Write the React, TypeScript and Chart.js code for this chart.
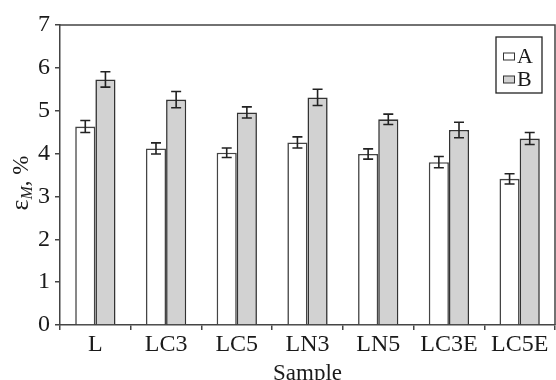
import React, { useEffect, useRef } from "react";
import { Chart, registerables } from "chart.js";

Chart.register(...registerables);

const categories = ["L", "LC3", "LC5", "LN3", "LN5", "LC3E", "LC5E"];
const valuesA = [4.63, 4.12, 4.02, 4.26, 3.99, 3.8, 3.41];
const errorsA = [0.14, 0.13, 0.11, 0.13, 0.12, 0.13, 0.12];
const valuesB = [5.73, 5.26, 4.96, 5.31, 4.8, 4.55, 4.35];
const errorsB = [0.18, 0.19, 0.13, 0.19, 0.12, 0.18, 0.14];
const yTicks = [0, 1, 2, 3, 4, 5, 6, 7];

const FONT = "'Liberation Serif', 'DejaVu Serif', serif";
const INK = "#1a1a1a";

const errorBarPlugin = {
  id: "errorBars",
  afterDatasetsDraw(chart: any) {
    const { ctx } = chart;
    const yScale = chart.scales.y;
    chart.data.datasets.forEach((ds: any, di: number) => {
      const meta = chart.getDatasetMeta(di);
      const errs: number[] = ds.errors || [];
      meta.data.forEach((bar: any, i: number) => {
        const v = ds.data[i];
        const e = errs[i];
        if (e == null) return;
        const yTop = yScale.getPixelForValue(v + e);
        const yBot = yScale.getPixelForValue(v - e);
        const x = bar.x;
        const cap = 5;
        ctx.save();
        ctx.strokeStyle = "#222";
        ctx.lineWidth = 1.6;
        ctx.beginPath();
        ctx.moveTo(x, yTop);
        ctx.lineTo(x, yBot);
        ctx.moveTo(x - cap, yTop);
        ctx.lineTo(x + cap, yTop);
        ctx.moveTo(x - cap, yBot);
        ctx.lineTo(x + cap, yBot);
        ctx.stroke();
        ctx.restore();
      });
    });
  },
};

const framePlugin = {
  id: "frameAndLabels",
  afterDraw(chart: any) {
    const { ctx, chartArea } = chart;
    ctx.save();
    ctx.strokeStyle = "#444";
    ctx.lineWidth = 1.5;
    ctx.beginPath();
    ctx.moveTo(chartArea.left, chartArea.top);
    ctx.lineTo(chartArea.right, chartArea.top);
    ctx.lineTo(chartArea.right, chartArea.bottom);
    ctx.stroke();

    // legend
    const lx = 496, ly = 37, lw = 46, lh = 56;
    ctx.lineWidth = 1.3;
    ctx.strokeStyle = "#222";
    ctx.fillStyle = "#fff";
    ctx.fillRect(lx, ly, lw, lh);
    ctx.strokeRect(lx, ly, lw, lh);
    const rows = [56.5, 79.5];
    chart.data.datasets.forEach((ds: any, i: number) => {
      const cy = rows[i];
      ctx.fillStyle = ds.backgroundColor;
      ctx.fillRect(503.5, cy - 3.5, 11, 7);
      ctx.strokeStyle = "#333";
      ctx.lineWidth = 1;
      ctx.strokeRect(503.5, cy - 3.5, 11, 7);
      ctx.fillStyle = INK;
      ctx.font = `22px ${FONT}`;
      ctx.textBaseline = "middle";
      ctx.textAlign = "left";
      ctx.fillText(ds.label, 517, cy + 1);
    });

    // y axis title with subscript
    ctx.translate(21, 183);
    ctx.rotate(-Math.PI / 2);
    ctx.fillStyle = INK;
    ctx.textBaseline = "alphabetic";
    ctx.textAlign = "left";
    const parts = [
      { t: "ε", f: `26px ${FONT}`, dy: 0 },
      { t: "M", f: `italic 16px ${FONT}`, dy: 4 },
      { t: ", %", f: `23px ${FONT}`, dy: 0 },
    ];
    let total = 0;
    parts.forEach((p) => {
      ctx.font = p.f;
      total += ctx.measureText(p.t).width;
    });
    let x = -total / 2;
    parts.forEach((p) => {
      ctx.font = p.f;
      ctx.fillText(p.t, x, 7 + p.dy);
      x += ctx.measureText(p.t).width;
    });
    ctx.restore();
  },
};

export default function App() {
  const ref = useRef<HTMLCanvasElement | null>(null);
  useEffect(() => {
    document.body.style.margin = "0";
    if (!ref.current) return;
    const chart = new Chart(ref.current, {
      type: "bar",
      data: {
        labels: categories,
        datasets: [
          {
            label: "A",
            data: valuesA,
            errors: errorsA,
            backgroundColor: "#ffffff",
            borderColor: "#444",
            borderWidth: 1.6,
            barPercentage: 1,
            categoryPercentage: 0.57,
          } as any,
          {
            label: "B",
            data: valuesB,
            errors: errorsB,
            backgroundColor: "#d2d2d2",
            borderColor: "#333",
            borderWidth: 1.6,
            barPercentage: 1,
            categoryPercentage: 0.57,
          } as any,
        ],
      },
      options: {
        animation: false,
        responsive: false,
        layout: { padding: { left: 0, right: 1, top: 25, bottom: 0 } },
        plugins: { legend: { display: false }, tooltip: { enabled: false } },
        scales: {
          x: {
            offset: true,
            grid: {
              display: true,
              drawOnChartArea: false,
              offset: true,
              tickLength: 5,
              color: "#444",
              lineWidth: 1.5,
            },
            border: { display: true, color: "#444", width: 1.5 },
            ticks: { color: INK, font: { family: FONT, size: 24 }, padding: 0 },
            title: {
              display: true,
              text: "Sample",
              color: INK,
              font: { family: FONT, size: 23 },
              padding: { top: 0, bottom: -8 },
            },
            afterFit: (s: any) => {
              s.height = 55;
            },
          },
          y: {
            min: 0,
            max: 7,
            afterBuildTicks: (s: any) => {
              s.ticks = yTicks.map((v) => ({ value: v }));
            },
            grid: {
              display: true,
              drawOnChartArea: false,
              tickLength: 5,
              color: "#444",
              lineWidth: 1.5,
            },
            border: { display: true, color: "#444", width: 1.5 },
            ticks: { color: INK, font: { family: FONT, size: 24 }, padding: 5 },
            afterFit: (s: any) => {
              s.width = 60;
            },
          },
        },
      },
      plugins: [errorBarPlugin, framePlugin],
    });
    return () => chart.destroy();
  }, []);
  return <canvas ref={ref} width={556} height={380} style={{ display: "block" }} />;
}
